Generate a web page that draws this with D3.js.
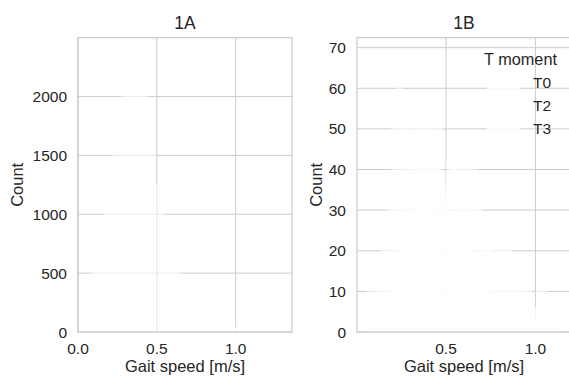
<!DOCTYPE html>
<html>
<head>
<meta charset="utf-8">
<script src="https://cdn.jsdelivr.net/npm/d3@7"></script>
<style>
  body { margin: 0; background: #fff; }
  svg { display: block; }
  text { font-family: "Liberation Sans", Arial, sans-serif; fill: #262626; }
</style>
</head>
<body>
<div id="chart"></div>
<script>
// ── Data ────────────────────────────────────────────────────────────────
// 1A: gait speed histogram, all measurements
const aBinStart = 0.0617;
const aBinWidth = 0.02682;
const aCounts = [470, 640, 820, 980, 1200, 1420, 1600, 1880, 2100, 2380,
                 2250, 2300, 2150, 2050, 1800, 1560, 1250, 1020, 900, 760,
                 620, 540, 450, 380, 300, 240, 190, 150, 120, 95,
                 75, 60, 50, 42, 34, 28, 22, 18, 14, 11,
                 8, 6, 5, 3, 2, 1];

// 1B: gait speed histogram per T moment (layered)
const bBinStart = 0.0565;
const bBinWidth = 0.0279;
const tMoments = ["T0", "T2", "T3"];
const bCountsT0 = [11, 14, 18, 24, 30, 52, 69, 56, 54, 51, 48, 44, 40, 38, 35, 30, 28, 26, 24, 22,
                   20, 18, 15, 12, 10, 9, 8, 7, 6, 5, 4, 4, 3, 3, 2, 2, 1, 1, 0];
const bCountsT2 = [5, 6, 8, 10, 14, 22, 30, 36, 42, 45, 55, 50, 53, 51, 52, 36, 42, 40, 38, 36,
                   34, 32, 26, 22, 20, 18, 16, 15, 13, 12, 10, 9, 8, 6, 5, 5, 4, 2, 1];
const bCountsT3 = [2, 3, 4, 6, 8, 12, 18, 22, 26, 30, 34, 36, 38, 40, 42, 34, 38, 45, 43, 46,
                   42, 41, 33, 28, 27, 25, 23, 24, 21, 17, 15, 13, 12, 6, 11, 10, 7, 4, 2];

const xTicksA = [0, 0.5, 1.0];
const xTicksB = [0.5, 1.0];
const yTicksA = [0, 500, 1000, 1500, 2000];
const yTicksB = [0, 10, 20, 30, 40, 50, 60, 70];

// ── Layout ──────────────────────────────────────────────────────────────
const W = 569, H = 379;
const GRID = "#cccccc";
const plotTop = 37.7, plotBottom = 332;

const svg = d3.select("#chart").append("svg")
  .attr("width", W).attr("height", H);

function toBins(start, width, counts) {
  return counts.map((c, i) => ({ x0: start + i * width, x1: start + (i + 1) * width, n: c }));
}

function panel(opts) {
  const { left, right, title, series, xTicks, yTicks, labelX, clipId } = opts;

  const all = series.flat();
  const lo = d3.min(all, d => d.x0), hi = d3.max(all, d => d.x1);
  const pad = (hi - lo) * 0.05;
  const x = d3.scaleLinear().domain([lo - pad, hi + pad]).range([left, right]);
  const yMax = d3.max(all, d => d.n) * 1.05;
  const y = d3.scaleLinear().domain([0, yMax]).range([plotBottom, plotTop]);

  const g = svg.append("g");

  // grid
  g.selectAll(".gy").data(yTicks).join("line")
    .attr("x1", left).attr("x2", right)
    .attr("y1", d => y(d)).attr("y2", d => y(d))
    .attr("stroke", GRID).attr("stroke-width", 1);
  g.selectAll(".gx").data(xTicks).join("line")
    .attr("x1", d => x(d)).attr("x2", d => x(d))
    .attr("y1", plotTop).attr("y2", plotBottom)
    .attr("stroke", GRID).attr("stroke-width", 1);

  // bars (white, layered)
  svg.append("clipPath").attr("id", clipId)
    .append("rect").attr("x", left).attr("y", plotTop)
    .attr("width", right - left).attr("height", plotBottom - plotTop);
  const barsG = g.append("g").attr("clip-path", `url(#${clipId})`);
  series.forEach(bins => {
    barsG.append("g").selectAll("rect").data(bins.filter(d => d.n > 0)).join("rect")
      .attr("x", d => x(d.x0)).attr("width", d => x(d.x1) - x(d.x0))
      .attr("y", d => y(d.n)).attr("height", d => plotBottom - y(d.n))
      .attr("fill", "#fff").attr("fill-opacity", 0.5)
      .attr("stroke", "#fff").attr("stroke-opacity", 0.6).attr("stroke-width", 1);
  });

  // spines
  g.append("rect")
    .attr("x", left).attr("y", plotTop)
    .attr("width", right - left).attr("height", plotBottom - plotTop)
    .attr("fill", "none").attr("stroke", GRID).attr("stroke-width", 1.25);

  // tick labels
  g.selectAll(".xt").data(xTicks).join("text")
    .attr("x", d => x(d)).attr("y", plotBottom + 22)
    .attr("text-anchor", "middle").style("font-size", "15.5px")
    .text(d3.format(".1f"));
  g.selectAll(".yt").data(yTicks).join("text")
    .attr("x", left - 11).attr("y", d => y(d)).attr("dy", "0.36em")
    .attr("text-anchor", "end").style("font-size", "15.5px")
    .text(d => d);

  // axis labels and title
  const cx = (left + right) / 2;
  g.append("text").attr("x", cx).attr("y", 372)
    .attr("text-anchor", "middle").style("font-size", "16.5px")
    .text("Gait speed [m/s]");
  g.append("text")
    .attr("transform", `translate(${labelX},${(plotTop + plotBottom) / 2}) rotate(-90)`)
    .attr("text-anchor", "middle").style("font-size", "16.5px")
    .text("Count");
  g.append("text").attr("x", cx).attr("y", 29)
    .attr("text-anchor", "middle").style("font-size", "17.5px")
    .text(title);

  return g;
}

panel({
  left: 78, right: 292, title: "1A", labelX: 23, clipId: "clipA",
  series: [toBins(aBinStart, aBinWidth, aCounts)],
  xTicks: xTicksA, yTicks: yTicksA
});

const gB = panel({
  left: 357, right: 571, title: "1B", labelX: 322, clipId: "clipB",
  series: [bCountsT0, bCountsT2, bCountsT3].map(c => toBins(bBinStart, bBinWidth, c)),
  xTicks: xTicksB, yTicks: yTicksB
});

// legend (handles are white patches, like the bars)
const leg = gB.append("g");
leg.append("text").attr("x", 557).attr("y", 65)
  .attr("text-anchor", "end").style("font-size", "16.3px")
  .text("T moment");
tMoments.forEach((t, i) => {
  const by = 88.3 + i * 23;
  leg.append("rect").attr("x", 487).attr("y", by - 11)
    .attr("width", 33).attr("height", 12.5)
    .attr("fill", "#fff").attr("fill-opacity", 0.85);
  leg.append("text").attr("x", 533).attr("y", by)
    .style("font-size", "15.5px").text(t);
});
</script>
</body>
</html>
